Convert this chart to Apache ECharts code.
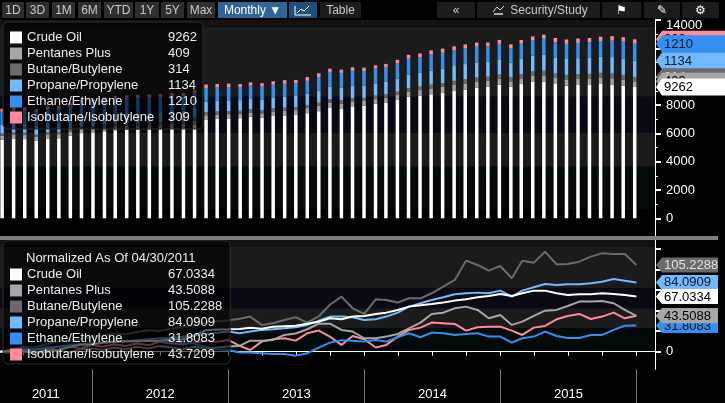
<!DOCTYPE html>
<html>
<head>
<meta charset="utf-8">
<script src="https://cdn.jsdelivr.net/npm/echarts@6/dist/echarts.min.js"></script>
<style>
html, body { margin: 0; padding: 0; background: #000; }
#main { width: 725px; height: 403px; }
</style>
</head>
<body>
<div id="main"></div>
<script>
var seriesNames = ['Crude Oil', 'Pentanes Plus', 'Butane/Butylene', 'Propane/Propylene', 'Ethane/Ethylene', 'Isobutane/Isobutylene'];
var seriesColors = ['#ffffff', '#a6a6a6', '#6b6b6b', '#73b9ff', '#3390f2', '#ff8a9c'];

// monthly production (month ends, 04/2011 .. 12/2015)
var crudeOil = [5545, 5623, 5589, 5467, 5639, 5650, 5839, 6011, 6022, 6138,
    6210, 6249, 6249, 6271, 6288, 6371, 6382, 6599, 6981, 7031,
    7048, 7070, 7159, 7092, 7220, 7260, 7290, 7420, 7560, 7791,
    7724, 7907, 7952, 8085, 8173, 8356, 8578, 8667, 8756, 8850,
    8983, 9072, 9205, 9293, 9432, 9293, 9476, 9654, 9654, 9476,
    9366, 9410, 9410, 9476, 9432, 9366, 9262];
var pentanesPlus = [285, 279, 288, 276, 285, 291, 282, 294, 296, 291,
    299, 294, 302, 296, 305, 299, 294, 302, 296, 299,
    303, 305, 323, 323, 325, 343, 348, 363, 382, 382,
    360, 355, 331, 331, 337, 346, 366, 386, 416, 420,
    435, 441, 429, 400, 412, 378, 389, 409, 427, 429,
    443, 458, 458, 461, 453, 429, 409];
var butane = [153, 158, 162, 161, 167, 171, 174, 176, 181, 184,
    187, 185, 190, 193, 191, 196, 199, 202, 207, 210,
    211, 214, 218, 203, 206, 212, 217, 207, 219, 240,
    255, 234, 223, 250, 249, 244, 252, 252, 261, 274,
    286, 322, 314, 304, 312, 289, 322, 318, 339, 315,
    316, 320, 330, 336, 334, 334, 314];
var propane = [616, 622, 634, 628, 641, 653, 659, 671, 678, 684,
    690, 696, 702, 708, 715, 721, 727, 739, 745, 758,
    766, 753, 766, 779, 784, 791, 798, 816, 847, 878,
    878, 873, 853, 858, 878, 908, 953, 978, 1003, 1023,
    1045, 1053, 1058, 1053, 1072, 1027, 1072, 1098, 1122, 1115,
    1120, 1120, 1127, 1140, 1160, 1147, 1134];
var ethane = [918, 936, 955, 946, 964, 973, 991, 1001, 1010, 1019,
    1028, 1028, 1037, 1047, 1037, 1028, 1019, 1010, 973, 946,
    937, 908, 908, 900, 893, 893, 872, 900, 964, 1019,
    1047, 1041, 1030, 1049, 1030, 1079, 1123, 1079, 1131, 1123,
    1104, 1115, 1123, 1086, 1086, 1019, 1068, 1086, 1142, 1093,
    1071, 1071, 1104, 1104, 1160, 1207, 1210];
var isobutane = [215, 219, 213, 221, 226, 219, 228, 224, 232, 228,
    234, 230, 237, 232, 241, 237, 234, 239, 243, 241,
    246, 230, 220, 241, 247, 250, 244, 263, 270, 254,
    233, 256, 247, 226, 233, 254, 272, 278, 291, 289,
    287, 270, 279, 280, 280, 270, 259, 278, 282, 300,
    308, 313, 300, 307, 317, 302, 309];

// normalized as of 04/30/2011 (% change)
var crudePct = [0, 1.4, 0.8, -1.4, 1.7, 1.9, 5.3, 8.4, 8.6, 10.7,
    12.0, 12.7, 12.7, 13.1, 13.4, 14.9, 15.1, 19.0, 25.9, 26.8,
    27.1, 27.5, 29.1, 27.9, 30.2, 30.9, 31.5, 33.8, 36.3, 40.5,
    39.3, 42.6, 43.4, 45.8, 47.4, 50.7, 54.7, 56.3, 57.9, 59.6,
    62.0, 63.6, 66.0, 67.6, 70.1, 67.6, 70.9, 74.1, 74.1, 70.9,
    68.9, 69.7, 69.7, 70.9, 70.1, 68.9, 67.0334];
var pentanesPct = [0, -2, 1, -3, 0, 2, -1, 3, 4, 2,
    5, 3, 6, 4, 7, 5, 3, 6, 4, 5,
    6.2, 7, 13.4, 13.4, 14.2, 20.3, 22, 27.2, 34, 34,
    26.4, 24.4, 16.3, 16.3, 18.3, 21.5, 28.4, 35.3, 45.8, 47.4,
    52.7, 54.7, 50.7, 40.5, 44.6, 32.5, 36.5, 43.4, 49.8, 50.7,
    55.5, 60.8, 60.8, 61.6, 58.8, 50.7, 43.5088];
var butanePct = [0, 3, 6, 5, 9, 12, 14, 15, 18, 20,
    22, 21, 24, 26, 25, 28, 30, 32, 35, 37,
    38, 40, 42.6, 32.5, 34.5, 38.5, 41.8, 35.3, 43, 57,
    66.8, 52.7, 45.8, 63.6, 62.8, 59.6, 64.8, 64.8, 70.9, 79,
    87.1, 110.5, 105.3, 98.4, 104, 89.1, 110.5, 108.1, 121.4, 106,
    106.5, 109.3, 115.4, 119.4, 118.6, 118.6, 105.2288];
var propanePct = [0, 1, 3, 2, 4, 6, 7, 9, 10, 11,
    12, 13, 14, 15, 16, 17, 18, 20, 21, 23,
    24.4, 22.3, 24.4, 26.4, 27.2, 28.4, 29.6, 32.5, 37.5, 42.6,
    42.6, 41.8, 38.5, 39.3, 42.6, 47.4, 54.7, 58.8, 62.8, 66,
    69.7, 70.9, 71.7, 70.9, 74.1, 66.8, 74.1, 78.2, 82.2, 81,
    81.8, 81.8, 83, 85, 88.3, 86.2, 84.0909];
var ethanePct = [0, 2, 4, 3, 5, 6, 8, 9, 10, 11,
    12, 12, 13, 14, 13, 12, 11, 10, 6, 3,
    2.1, -1.1, -1.1, -2, -2.7, -2.7, -5, -2, 5, 11,
    14, 13.4, 12.2, 14.3, 12.2, 17.5, 22.3, 17.5, 23.2, 22.3,
    20.3, 21.5, 22.3, 18.3, 18.3, 11, 16.3, 18.3, 24.4, 19.1,
    16.7, 16.7, 20.3, 20.3, 26.4, 31.5, 31.8083];
var isobutanePct = [0, 2, -1, 3, 5, 2, 6, 4, 8, 6,
    9, 7, 10, 8, 12, 10, 9, 11, 13, 12,
    14.3, 7, 2.1, 12.2, 15, 16.3, 13.4, 22.3, 25.6, 18.3,
    8.2, 19.1, 15.1, 5, 8.2, 18.3, 26.4, 29.2, 35.3, 34.5,
    33.7, 25.6, 29.6, 30.4, 30.4, 25.6, 20.3, 29.2, 31.2, 39.3,
    43.4, 45.8, 39.7, 42.6, 47.4, 40.5, 43.7209];

// axis ticks / labels
var quarterTicks = ['2011-07-01', '2011-10-01', '2012-01-01', '2012-04-01', '2012-07-01', '2012-10-01',
    '2013-01-01', '2013-04-01', '2013-07-01', '2013-10-01', '2014-01-01', '2014-04-01', '2014-07-01',
    '2014-10-01', '2015-01-01', '2015-04-01', '2015-07-01', '2015-10-01', '2016-01-01'];
var yearLines = ['2012-01-01', '2013-01-01', '2014-01-01', '2015-01-01', '2016-01-01'];
var yearLabelAt = ['2011-08-30', '2012-07-02', '2013-07-02', '2014-07-02', '2015-07-02'];
var normTicks = [0, 25, 50, 75, 100, 125];
var normLabels = [0];

var production = [crudeOil, pentanesPlus, butane, propane, ethane, isobutane];
var normalized = [crudePct, pentanesPct, butanePct, propanePct, ethanePct, isobutanePct];

var FONT = "'Liberation Sans', Arial, sans-serif";

function ts(s) {
    var p = s.split('-');
    return new Date(+p[0], +p[1] - 1, +p[2]).getTime();
}

// month-end dates
var monthEnds = [];
for (var k = 0; k < crudeOil.length; k++) {
    monthEnds.push(new Date(2011, 4 + k, 0).getTime());
}
var last = monthEnds.length - 1;
var xMin = ts('2011-04-29');
var xMax = ts('2016-02-19');

var chart = echarts.init(document.getElementById('main'));

var series = [];
production.forEach(function(arr, i) {
    series.push({
        name: seriesNames[i],
        type: 'bar',
        stack: 'prod',
        xAxisIndex: 0,
        yAxisIndex: 0,
        barWidth: 3.5,
        itemStyle: { color: seriesColors[i] },
        data: monthEnds.map(function(t, j) { return [t, arr[j]]; })
    });
});
for (var i = normalized.length - 1; i >= 0; i--) {
    (function(i) {
        series.push({
            name: seriesNames[i],
            type: 'line',
            xAxisIndex: 1,
            yAxisIndex: 1,
            showSymbol: false,
            symbol: 'none',
            lineStyle: { color: seriesColors[i], width: 2 },
            itemStyle: { color: seriesColors[i] },
            data: monthEnds.map(function(t, j) { return [t, normalized[i][j]]; })
        });
    })(i);
}

function legendRich(valWidth) {
    return {
        n: { width: 141, fontSize: 13, color: '#ececec', fontFamily: FONT },
        v: { width: valWidth, fontSize: 13, color: '#ececec', fontFamily: FONT }
    };
}
var legendData = seriesNames.map(function(n, i) {
    return { name: n, icon: 'rect', itemStyle: { color: seriesColors[i] } };
});

var option = {
    backgroundColor: '#000',
    animation: false,
    title: {
        text: 'Normalized As Of 04/30/2011',
        left: 26,
        top: 252,
        padding: 0,
        z: 10,
        textStyle: { color: '#ececec', fontSize: 13, fontWeight: 'normal', fontFamily: FONT }
    },
    legend: [{
        data: legendData,
        orient: 'vertical',
        left: 3,
        top: 22,
        itemWidth: 12,
        itemHeight: 12,
        itemGap: 3,
        padding: [9, 6, 5, 7],
        backgroundColor: 'rgba(0,0,0,0.62)',
        borderColor: '#2c2c2c',
        borderWidth: 1,
        borderRadius: 5,
        selectedMode: false,
        formatter: function(name) {
            var i = seriesNames.indexOf(name);
            return '{n|' + name + '}{v|' + production[i][last] + '}';
        },
        textStyle: { rich: legendRich(29) }
    }, {
        data: legendData,
        orient: 'vertical',
        left: 3,
        top: 241,
        itemWidth: 12,
        itemHeight: 12,
        itemGap: 3,
        padding: [27, 8, 3, 7],
        backgroundColor: 'rgba(0,0,0,0.62)',
        borderColor: '#2c2c2c',
        borderWidth: 1,
        borderRadius: 5,
        selectedMode: false,
        formatter: function(name) {
            var i = seriesNames.indexOf(name);
            return '{n|' + name + '}{v|' + normalized[i][last].toFixed(4) + '}';
        },
        textStyle: { rich: legendRich(54) }
    }],
    grid: [
        { left: 0, right: 70, top: 20, bottom: 184.7 },
        { left: 0, right: 70, top: 240, bottom: 33.7 }
    ],
    xAxis: [{
        gridIndex: 0, type: 'time', min: xMin, max: xMax, show: false, splitLine: { show: false }
    }, {
        gridIndex: 1, type: 'value', min: xMin, max: xMax, position: 'bottom',
        axisLine: { show: true, lineStyle: { color: '#ffffff', width: 1 } },
        axisTick: { show: true, customValues: quarterTicks.map(ts), length: 4, lineStyle: { color: '#ffffff' } },
        axisLabel: { show: false },
        splitLine: { show: false }
    }, {
        gridIndex: 1, type: 'value', min: xMin, max: xMax, position: 'bottom',
        axisLine: { show: false },
        axisTick: { show: true, customValues: yearLines.map(ts), length: 34, lineStyle: { color: '#777777' } },
        axisLabel: {
            customValues: yearLabelAt.map(ts),
            formatter: function(v) { return String(new Date(v).getFullYear()); },
            color: '#ffffff', fontSize: 13, margin: 19, fontFamily: FONT
        },
        splitLine: { show: false }
    }],
    yAxis: [{
        gridIndex: 0, type: 'value', position: 'right', min: 0, max: 14000, interval: 2000,
        axisLine: { show: true, lineStyle: { color: '#ffffff' } },
        axisTick: { show: true, length: 6, lineStyle: { color: '#ffffff', width: 2 } },
        minorTick: { show: true, splitNumber: 2, length: 3, lineStyle: { color: '#ffffff' } },
        axisLabel: {
            color: '#ffffff', fontSize: 13, margin: 11, fontFamily: FONT,
            formatter: function(v) { return v === 14000 ? '{t|14000}' : String(v); },
            rich: { t: { color: '#ffffff', fontSize: 13, fontFamily: FONT, padding: [10, 0, 0, 0] } }
        },
        splitLine: { show: false }
    }, {
        gridIndex: 1, type: 'value', position: 'right', min: -21.4, max: 135.6,
        axisLine: { show: true, lineStyle: { color: '#ffffff' } },
        axisTick: { show: true, customValues: normTicks, length: 6, lineStyle: { color: '#ffffff', width: 2 } },
        axisLabel: { customValues: normLabels, color: '#ffffff', fontSize: 13, margin: 11, fontFamily: FONT },
        splitLine: { show: false }
    }],
    series: series
};

chart.setOption(option);

// --- decorations: background bands, toolbar, value tags
var els = [];
function band(y0, y1, color) {
    els.push({ type: 'rect', z: -10, silent: true, shape: { x: 0, y: y0, width: 655, height: y1 - y0 }, style: { fill: color } });
}
band(20, 26.7, '#121212');
band(26.7, 96.7, '#1b1b1b');
band(96.7, 132.7, '#0a0a14');
band(132.7, 166.7, '#1b1b1b');
band(166.7, 209, '#020a0a');
band(240, 246.7, '#121212');
band(246.7, 288.3, '#1b1b1b');
band(288.3, 308.3, '#0a0a14');
band(308.3, 328.3, '#1b1b1b');
band(328.3, 352.7, '#020a0a');

// separator + axis line between panels
els.push({ type: 'line', z: 5, silent: true, shape: { x1: 655.5, y1: 218, x2: 655.5, y2: 240 }, style: { stroke: '#ffffff', lineWidth: 1 } });
els.push({ type: 'rect', z: 6, silent: true, shape: { x: 0, y: 236, width: 718, height: 4 }, style: { fill: '#7d7d7d' } });

// toolbar
var buttons = [
    ['1D', 2, 22], ['3D', 26, 23], ['1M', 52, 23], ['6M', 78, 23], ['YTD', 104, 29], ['1Y', 135, 24],
    ['5Y', 161, 23], ['Max', 187, 28], ['Monthly \u25BC', 218, 69, '#2f6596', '#ffffff'], ['', 289, 28, '#1d4f7d'],
    ['Table', 320, 41, '#1c1c1c'], ['\u00AB', 437, 38, '#1c1c1c'], ['Security/Study', 477, 123, '#1c1c1c'],
    ['\u2691', 602, 39, '#1c1c1c', '#ffffff'], ['\u270E', 644, 36, '#1c1c1c', '#ffffff'], ['\u2699', 682, 37, '#1c1c1c', '#ffffff']
];
buttons.forEach(function(b) {
    els.push({ type: 'rect', z: 20, silent: true, shape: { x: b[1], y: 2, width: b[2], height: 16 }, style: { fill: b[3] || '#2e2e2e' } });
    if (b[0]) {
        var cx = b[0] === 'Security/Study' ? b[1] + 72 : b[1] + b[2] / 2;
        els.push({ type: 'text', z: 21, silent: true, x: cx, y: 10.5,
            style: { text: b[0], fill: b[4] || '#c8c8c8', fontSize: 12, fontFamily: FONT, align: 'center', verticalAlign: 'middle' } });
    }
});
// chart icon in blue button + study icon
els.push({ type: 'polyline', z: 22, silent: true, shape: { points: [[295, 6], [295, 15], [311, 15]] }, style: { stroke: '#ffffff', lineWidth: 1, fill: null } });
els.push({ type: 'polyline', z: 22, silent: true, shape: { points: [[297, 13], [301, 9], [304, 11], [309, 6]] }, style: { stroke: '#ffffff', lineWidth: 1, fill: null } });
els.push({ type: 'polyline', z: 22, silent: true, shape: { points: [[493, 12], [497, 7], [500, 10], [504, 6]] }, style: { stroke: '#dddddd', lineWidth: 1, fill: null } });
els.push({ type: 'rect', z: 22, silent: true, shape: { x: 494, y: 13, width: 9, height: 2 }, style: { fill: '#aaaaaa' } });

// value tags on the right axes
function tag(y, h, right, fill, txtColor, text, z) {
    els.push({ type: 'polygon', z: z, silent: true,
        shape: { points: [[656, y], [662, y - h / 2], [right, y - h / 2], [right, y + h / 2], [662, y + h / 2]] },
        style: { fill: fill } });
    els.push({ type: 'text', z: z, silent: true, x: 664, y: y + 0.5,
        style: { text: text, fill: txtColor, fontSize: 13, fontFamily: FONT, verticalAlign: 'middle' } });
}
var tagText = ['#000000', '#000000', '#e0e0e0', '#06162b', '#06162b', '#000000'];
var cum = 0;
for (var s = 0; s < production.length; s++) {
    cum += production[s][last];
    var yTop = chart.convertToPixel({ yAxisIndex: 0 }, cum);
    tag(yTop, 17, 725, seriesColors[s], tagText[s], String(production[s][last]), 100 - s);
}
for (var s2 = 0; s2 < normalized.length; s2++) {
    var yN = chart.convertToPixel({ yAxisIndex: 1 }, normalized[s2][last]);
    tag(yN, 15, 718, seriesColors[s2], tagText[s2], normalized[s2][last].toFixed(4), 100 - s2);
}

chart.setOption({ graphic: { elements: els } });
</script>
</body>
</html>
